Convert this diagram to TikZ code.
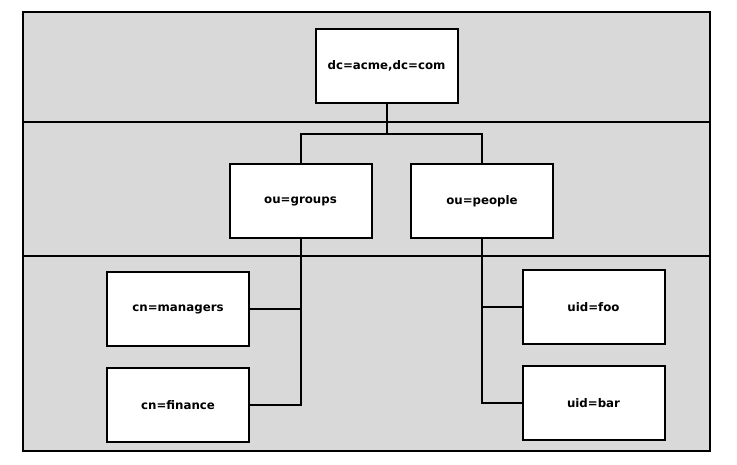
\documentclass[tikz,border=0pt]{standalone}
\usepackage{fontspec}
\setmainfont{DejaVu Sans}
\begin{document}
\begin{tikzpicture}[x=1pt,y=-1pt,
  band/.style={draw=black,fill=bandgray,line width=1.5pt},
  entry/.style={draw=black,fill=white,line width=2pt,minimum width=142pt,minimum height=74pt,inner sep=0pt,font=\fontsize{11.8}{14}\selectfont\bfseries},
  link/.style={draw=black,line width=2pt}]
\definecolor{bandgray}{HTML}{D9D9D9}
\useasboundingbox (0,0) rectangle (737,465);
\fill[white] (0,0) rectangle (737,465);
% bands
\path[band] (23,12) rectangle (710,122);
\path[band] (23,122) rectangle (710,256);
\path[band] (23,256) rectangle (710,451);
% nodes
\node[entry] (root) at (386.5,66) {dc=acme,dc=com};
\node[entry] (groups) at (300.5,201) {ou=groups};
\node[entry] (people) at (482,201) {ou=people};
\node[entry] (managers) at (178,309) {cn=managers};
\node[entry] (finance) at (178,405) {cn=finance};
\node[entry] (foo) at (593.5,307) {uid=foo};
\node[entry] (bar) at (593.5,403) {uid=bar};
% connectors
\draw[link] (root.south) -- ++(0,30) -| (groups.north);
\draw[link] (root.south) -- ++(0,30) -| (people.north);
\draw[link] (groups.south) |- (managers.east);
\draw[link] (groups.south) |- (finance.east);
\draw[link] (people.south) |- (foo.west);
\draw[link] (people.south) |- (bar.west);
\end{tikzpicture}
\end{document}
